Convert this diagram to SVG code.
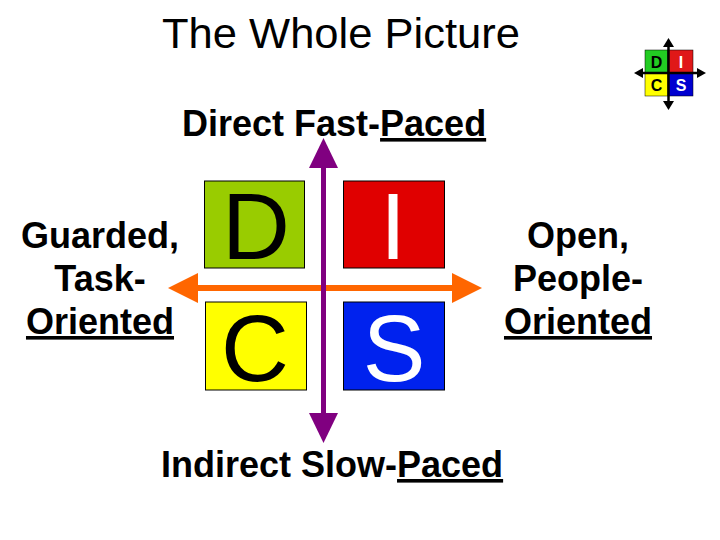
<svg xmlns="http://www.w3.org/2000/svg" width="720" height="540" viewBox="0 0 720 540">
<style>
.lbl{font-family:"Liberation Sans",Arial,sans-serif;font-weight:bold;font-size:36px;fill:#000}
.big{font-family:"Liberation Sans",Arial,sans-serif;font-size:94px;text-anchor:middle}
.sm{font-family:"Liberation Sans",Arial,sans-serif;font-weight:bold;font-size:16px;text-anchor:middle}
.u{text-decoration:underline}
</style>
<rect width="720" height="540" fill="#fff"/>
<text x="162" y="48" font-family="Liberation Sans, Arial, sans-serif" font-size="42" textLength="358" lengthAdjust="spacingAndGlyphs">The Whole Picture</text>
<g id="icon">
<rect x="645" y="50" width="23" height="23" fill="#22CC22" stroke="#000" stroke-width="0.5"/>
<rect x="668" y="50" width="25" height="23" fill="#E01818" stroke="#000" stroke-width="0.5"/>
<rect x="645" y="73" width="23" height="23" fill="#FFFF00" stroke="#000" stroke-width="0.5"/>
<rect x="668" y="73" width="25" height="23" fill="#0000D0" stroke="#000" stroke-width="0.5"/>
<text class="sm" x="656.5" y="68">D</text>
<text class="sm" x="681" y="68" fill="#fff">I</text>
<text class="sm" x="656.5" y="91">C</text>
<text class="sm" x="681" y="91" fill="#fff">S</text>
<line x1="668.5" y1="46" x2="668.5" y2="102" stroke="#000" stroke-width="2.5"/>
<line x1="641" y1="73" x2="699" y2="73" stroke="#000" stroke-width="2.5"/>
<polygon points="668.5,38 663,47 674,47" fill="#000"/>
<polygon points="668.5,110 663,101 674,101" fill="#000"/>
<polygon points="634,73 643,68 643,78" fill="#000"/>
<polygon points="706,73 697,68 697,78" fill="#000"/>
</g>
<g id="label-top"><text class="lbl" x="182" y="136">Direct Fast-<tspan class="u">Paced</tspan></text></g>
<g id="label-bottom"><text class="lbl" x="161" y="477">Indirect Slow-<tspan class="u">Paced</tspan></text></g>
<g id="label-left"><text class="lbl" text-anchor="middle"><tspan x="100" y="248">Guarded,</tspan><tspan x="100" y="291">Task-</tspan><tspan x="100" y="334" class="u">Oriented</tspan></text></g>
<g id="label-right"><text class="lbl" text-anchor="middle"><tspan x="578" y="248">Open,</tspan><tspan x="578" y="291">People-</tspan><tspan x="578" y="334" class="u">Oriented</tspan></text></g>
<g id="D"><rect x="204.5" y="181" width="100" height="87" fill="#99CC00" stroke="#000" stroke-width="1"/><text class="big" x="256" y="259" fill="#000">D</text></g>
<g id="I"><rect x="343.5" y="181" width="101" height="87" fill="#E00000" stroke="#000" stroke-width="1"/><text class="big" x="393" y="259" fill="#fff">I</text></g>
<g id="C"><rect x="205.5" y="302" width="101" height="88" fill="#FFFF00" stroke="#000" stroke-width="1"/><text class="big" x="255" y="381" fill="#000">C</text></g>
<g id="S"><rect x="343.5" y="302" width="101" height="88" fill="#0022EE" stroke="#000" stroke-width="1"/><text class="big" x="394" y="381" fill="#fff">S</text></g>
<g id="connectors">
<line x1="196" y1="288" x2="452" y2="288" stroke="#FF6600" stroke-width="6"/>
<polygon points="168,288 198,273 198,303" fill="#FF6600"/>
<polygon points="482,288 452,273 452,303" fill="#FF6600"/>
<line x1="323.5" y1="166" x2="323.5" y2="415" stroke="#800080" stroke-width="5"/>
<polygon points="323.5,138 309,168 338,168" fill="#800080"/>
<polygon points="323.5,443 309,413 338,413" fill="#800080"/>
</g>
</svg>
